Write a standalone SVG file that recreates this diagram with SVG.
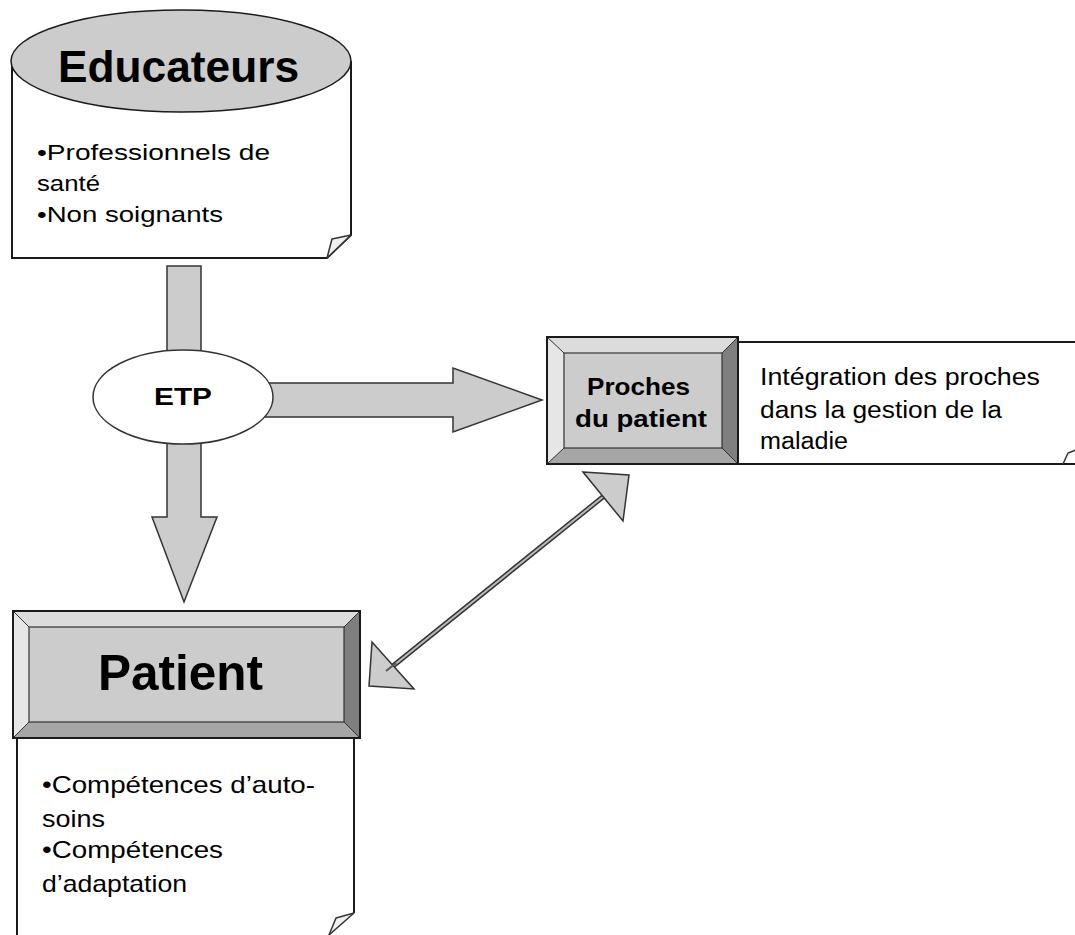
<svg xmlns="http://www.w3.org/2000/svg" width="1075" height="935" viewBox="0 0 1075 935">
<style>
.ln{stroke:#1a1a1a;stroke-width:2;stroke-linejoin:miter}
.blk{fill:#cccccc;stroke:#333;stroke-width:1.5;stroke-linejoin:miter}
.t{font-family:"Liberation Sans",Arial,sans-serif;fill:#000}
.b{font-weight:bold}
.note{fill:#fff;stroke:#1a1a1a;stroke-width:2}
.fold{fill:#f0f0f0;stroke:#333;stroke-width:1.5;stroke-linejoin:round}
</style>
<rect width="1075" height="935" fill="#fff"/>

<g id="connectors">
  <!-- Educateurs -> ETP shaft -->
  <rect x="167" y="266" width="34" height="90" class="blk"/>
  <!-- ETP -> Patient -->
  <polygon points="167,440 201,440 201,517 217,517 184,602 152,517 167,517" class="blk"/>
  <!-- ETP -> Proches -->
  <polygon points="265,383 453,383 453,368 542,400 453,432 453,417 265,417" class="blk"/>
  <!-- double arrow -->
  <line x1="388" y1="670" x2="604" y2="496" stroke="#333" stroke-width="5"/>
  <line x1="388" y1="670" x2="604" y2="496" stroke="#bbb" stroke-width="2"/>
  <polygon points="583,472 629,475 623,521" class="blk"/>
  <polygon points="372,642 369,686 414,689" class="blk"/>
  <line x1="386" y1="671" x2="396" y2="663" stroke="#555" stroke-width="2"/>
</g>

<g id="educateurs">
  <path d="M12,61 L12,258 L327,258 L351,235 L351,61" class="note"/>
  <path d="M327,258 L332,239 L351,235 Z" class="fold"/>
  <ellipse cx="181" cy="61" rx="170" ry="51" fill="#cccccc" stroke="#1a1a1a" stroke-width="1.5"/>
  <text x="58" y="82" class="t b" font-size="44" textLength="241" lengthAdjust="spacingAndGlyphs">Educateurs</text>
  <text class="t" font-size="22">
    <tspan x="37" y="160" textLength="233" lengthAdjust="spacingAndGlyphs">•Professionnels de</tspan>
    <tspan x="37" y="191" textLength="63" lengthAdjust="spacingAndGlyphs">santé</tspan>
    <tspan x="37" y="222" textLength="186" lengthAdjust="spacingAndGlyphs">•Non soignants</tspan>
  </text>
</g>

<g id="etp">
  <ellipse cx="183" cy="397" rx="90" ry="47" fill="#fff" stroke="#333" stroke-width="1.5"/>
  <text x="154" y="405" class="t b" font-size="24" textLength="58" lengthAdjust="spacingAndGlyphs">ETP</text>
</g>

<g id="proches-note">
  <path d="M738,342 L1080,342 M1080,464 L738,464" class="note"/>
  <path d="M1063,464 L1068,453 L1076,450" fill="none" stroke="#333" stroke-width="1.5"/>
  <text class="t" font-size="23">
    <tspan x="760" y="385" textLength="280" lengthAdjust="spacingAndGlyphs">Intégration des proches</tspan>
    <tspan x="760" y="418" textLength="242" lengthAdjust="spacingAndGlyphs">dans la gestion de la</tspan>
    <tspan x="760" y="449" textLength="88" lengthAdjust="spacingAndGlyphs">maladie</tspan>
  </text>
</g>

<g id="proches">
  <rect x="547" y="337" width="191" height="127" fill="#ccc"/>
  <polygon points="547,337 738,337 722,353 564,353" fill="#dcdcdc"/>
  <polygon points="547,337 564,353 564,448 547,464" fill="#e6e6e6"/>
  <polygon points="738,337 738,464 722,448 722,353" fill="#7f7f7f"/>
  <polygon points="547,464 564,448 722,448 738,464" fill="#a6a6a6"/>
  <rect x="564" y="353" width="158" height="95" fill="#cccccc" stroke="#333" stroke-width="1.2"/>
  <path d="M547,337 L564,353 M738,337 L722,353 M547,464 L564,448 M738,464 L722,448" stroke="#333" stroke-width="1"/>
  <rect x="547" y="337" width="191" height="127" fill="none" stroke="#1a1a1a" stroke-width="2"/>
  <text class="t b" font-size="24">
    <tspan x="587" y="395" textLength="103" lengthAdjust="spacingAndGlyphs">Proches</tspan>
    <tspan x="575" y="427" textLength="132" lengthAdjust="spacingAndGlyphs">du patient</tspan>
  </text>
</g>

<g id="patient-note">
  <path d="M17,738 L17,940 M354,738 L354,913" class="note"/>
  <path d="M354,913 L336,918 L329,935" class="fold"/>
  <path d="M354,913 L329,935" stroke="#333" stroke-width="1.5"/>
  <text class="t" font-size="24">
    <tspan x="42" y="793" textLength="273" lengthAdjust="spacingAndGlyphs">•Compétences d’auto-</tspan>
    <tspan x="42" y="827" textLength="63" lengthAdjust="spacingAndGlyphs">soins</tspan>
    <tspan x="42" y="858" textLength="181" lengthAdjust="spacingAndGlyphs">•Compétences</tspan>
    <tspan x="42" y="892" textLength="145" lengthAdjust="spacingAndGlyphs">d’adaptation</tspan>
  </text>
</g>

<g id="patient">
  <rect x="13" y="611" width="347" height="127" fill="#ccc"/>
  <polygon points="13,611 360,611 344,627 29,627" fill="#dcdcdc"/>
  <polygon points="13,611 29,627 29,722 13,738" fill="#e6e6e6"/>
  <polygon points="360,611 360,738 344,722 344,627" fill="#7f7f7f"/>
  <polygon points="13,738 29,722 344,722 360,738" fill="#a6a6a6"/>
  <rect x="29" y="627" width="315" height="95" fill="#cccccc" stroke="#333" stroke-width="1.2"/>
  <path d="M13,611 L29,627 M360,611 L344,627 M13,738 L29,722 M360,738 L344,722" stroke="#333" stroke-width="1"/>
  <rect x="13" y="611" width="347" height="127" fill="none" stroke="#1a1a1a" stroke-width="2"/>
  <text x="98" y="690" class="t b" font-size="50" textLength="165" lengthAdjust="spacingAndGlyphs">Patient</text>
</g>
</svg>
